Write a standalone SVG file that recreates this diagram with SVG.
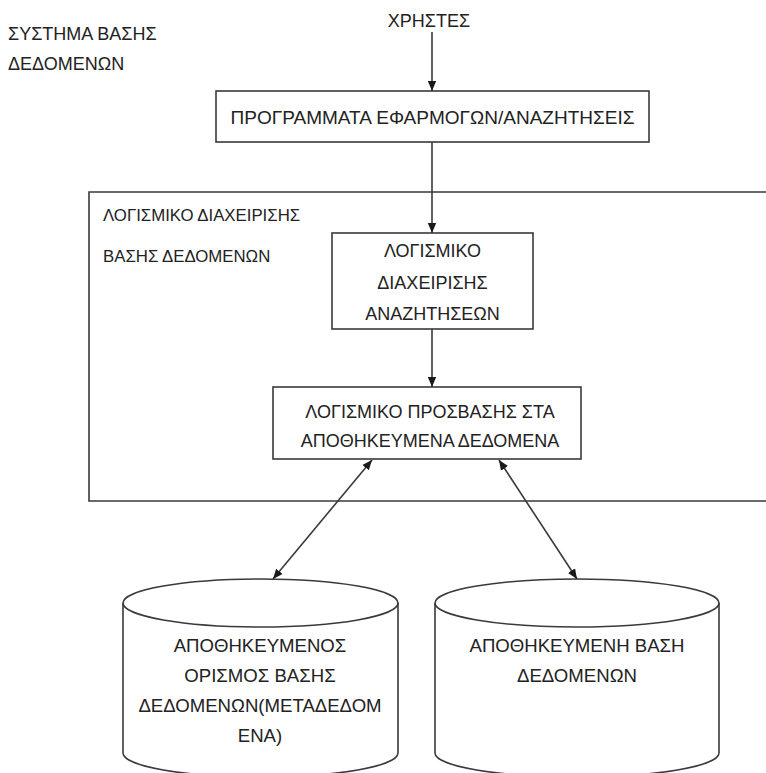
<svg xmlns="http://www.w3.org/2000/svg" width="766" height="773" viewBox="0 0 766 773">
<style>
.ln{stroke:#3a3a3a;stroke-width:1.6;fill:none}
.bx{stroke:#3a3a3a;stroke-width:1.6;fill:#fff}
.t{font-family:"Liberation Sans",Arial,sans-serif;font-size:18px;fill:#222}
.s{font-size:16.8px}
.cy{font-size:18.6px}
.c{text-anchor:middle}
</style>
<defs>
<marker id="ah" viewBox="0 0 10 10" refX="10" refY="5" markerWidth="10" markerHeight="10" markerUnits="userSpaceOnUse" orient="auto-start-reverse">
<path d="M0,0.8 L10,5 L0,9.2 z" fill="#1a1a1a"/>
</marker>
</defs>
<rect width="766" height="773" fill="#fff"/>
<g id="title">
<text class="t" x="8" y="40">ΣΥΣΤΗΜΑ ΒΑΣΗΣ</text>
<text class="t" x="8" y="70">ΔΕΔΟΜΕΝΩΝ</text>
</g>
<g id="users"><text class="t c" x="429" y="27">ΧΡΗΣΤΕΣ</text></g>
<g id="dbms">
<path class="ln" d="M767,192 H89 V501 H767"/>
<text class="t s" x="103" y="221">ΛΟΓΙΣΜΙΚΟ ΔΙΑΧΕΙΡΙΣΗΣ</text>
<text class="t s" x="103" y="262">ΒΑΣΗΣ ΔΕΔΟΜΕΝΩΝ</text>
</g>
<g id="apps">
<rect class="bx" x="216" y="91" width="433" height="51"/>
<text class="t c" x="432.5" y="124" textLength="404" lengthAdjust="spacingAndGlyphs">ΠΡΟΓΡΑΜΜΑΤΑ ΕΦΑΡΜΟΓΩΝ/ΑΝΑΖΗΤΗΣΕΙΣ</text>
</g>
<g id="query">
<rect class="bx" x="332" y="233" width="201" height="96"/>
<text class="t c" x="432.5" y="257">ΛΟΓΙΣΜΙΚΟ</text>
<text class="t c" x="432.5" y="289">ΔΙΑΧΕΙΡΙΣΗΣ</text>
<text class="t c" x="432.5" y="320">ΑΝΑΖΗΤΗΣΕΩΝ</text>
</g>
<g id="access">
<rect class="bx" x="273" y="387" width="308" height="72"/>
<text class="t c" x="430" y="418">ΛΟΓΙΣΜΙΚΟ ΠΡΟΣΒΑΣΗΣ ΣΤΑ</text>
<text class="t c" x="430" y="447">ΑΠΟΘΗΚΕΥΜΕΝΑ ΔΕΔΟΜΕΝΑ</text>
</g>
<g id="meta">
<path class="bx" d="M123,603 V753 A137.5,24 0 0 0 398,753 V603"/>
<ellipse class="bx" cx="260.5" cy="603" rx="137.5" ry="24"/>
<text class="t c cy" x="260" y="652">ΑΠΟΘΗΚΕΥΜΕΝΟΣ</text>
<text class="t c cy" x="260" y="682">ΟΡΙΣΜΟΣ ΒΑΣΗΣ</text>
<text class="t c cy" x="260" y="712">ΔΕΔΟΜΕΝΩΝ(ΜΕΤΑΔΕΔΟΜ</text>
<text class="t c cy" x="260" y="742">ΕΝΑ)</text>
</g>
<g id="db">
<path class="bx" d="M435,603 V753 A142,24 0 0 0 719,753 V603"/>
<ellipse class="bx" cx="577" cy="603" rx="142" ry="24"/>
<text class="t c cy" x="577" y="652">ΑΠΟΘΗΚΕΥΜΕΝΗ ΒΑΣΗ</text>
<text class="t c cy" x="577" y="682">ΔΕΔΟΜΕΝΩΝ</text>
</g>
<g id="connectors">
<line class="ln" x1="432" y1="32" x2="432" y2="91" marker-end="url(#ah)"/>
<line class="ln" x1="432" y1="142" x2="432" y2="233" marker-end="url(#ah)"/>
<line class="ln" x1="432" y1="329" x2="432" y2="387" marker-end="url(#ah)"/>
<line class="ln" x1="372" y1="460" x2="273" y2="579" marker-start="url(#ah)" marker-end="url(#ah)"/>
<line class="ln" x1="499" y1="460" x2="577" y2="579" marker-start="url(#ah)" marker-end="url(#ah)"/>
</g>
</svg>
